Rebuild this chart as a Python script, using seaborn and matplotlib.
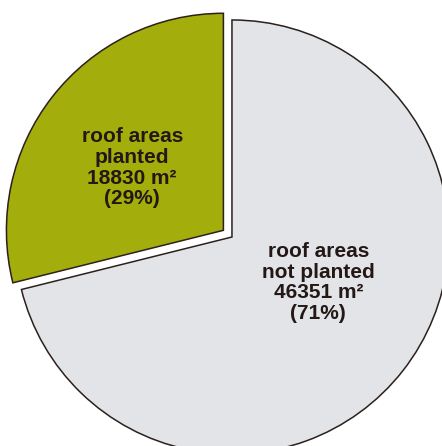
import matplotlib
matplotlib.use("Agg")
import matplotlib.pyplot as plt
import seaborn as sns
import numpy as np

# data
categories = ["roof areas\nplanted", "roof areas\nnot planted"]
areas_m2 = [18830, 46351]
percent_labels = ["29%", "71%"]

# style
slice_colors = ["#a3ad0b", "#e3e4e8"]
explode = [0.05, 0.0]
edge_color = "#2b201c"
text_color = "#231815"
label_dist = [0.51, 0.45]        # fraction of radius from wedge centre
label_angle_adj = [-3.5, -10.2]  # degrees

sns.set_theme(style="white")
plt.rcParams["font.family"] = ["Liberation Sans", "DejaVu Sans"]

fig = plt.figure(figsize=(4.42, 4.46), dpi=100)
ax = fig.add_axes([0, 0, 1, 1])

wedges, _ = ax.pie(
    areas_m2,
    colors=slice_colors,
    explode=explode,
    startangle=90,
    counterclock=True,
    radius=1.0,
    wedgeprops=dict(edgecolor=edge_color, linewidth=1.1),
)

for i, w in enumerate(wedges):
    mid = np.deg2rad((w.theta1 + w.theta2) / 2.0 - label_angle_adj[i])
    cx, cy = w.center
    x = cx + label_dist[i] * np.cos(mid)
    y = cy + label_dist[i] * np.sin(mid)
    txt = f"{categories[i]}\n{areas_m2[i]} m²\n({percent_labels[i]})"
    ax.text(x, y, txt, ha="center", va="center", fontsize=15,
            fontweight="bold", color=text_color, linespacing=1.12)

ax.set_aspect("auto")
ax.set_xlim(-1.069, 0.968)
ax.set_ylim(-0.963, 1.092)
ax.axis("off")

fig.savefig("out.png", dpi=100, facecolor="white")
